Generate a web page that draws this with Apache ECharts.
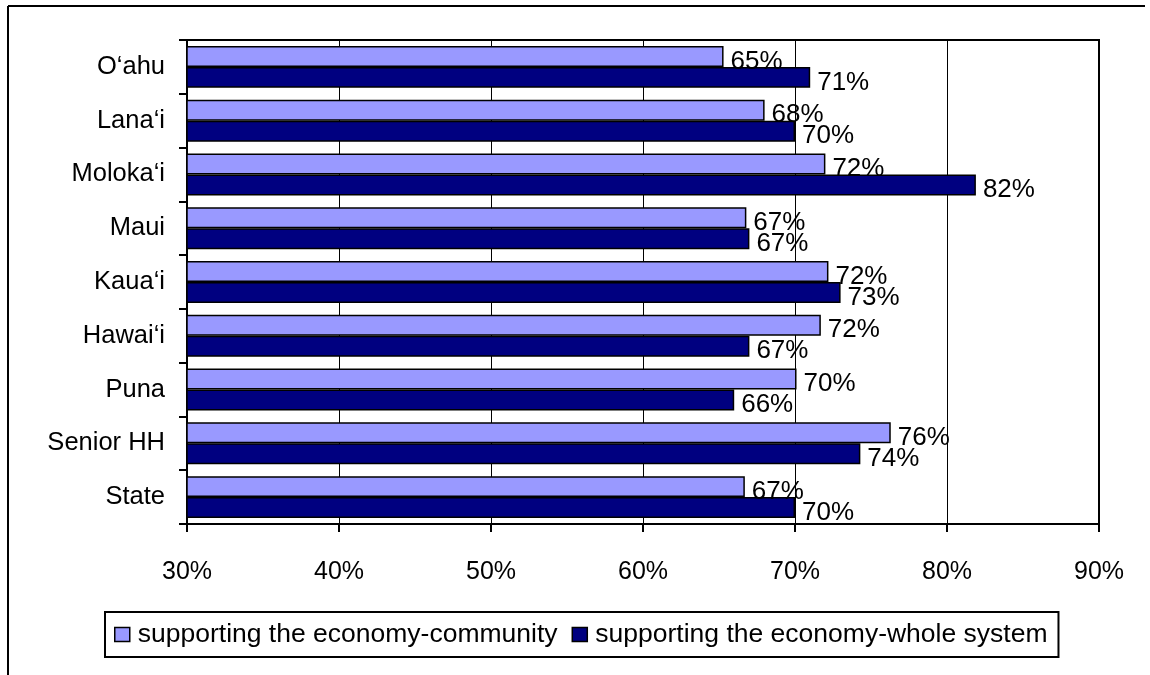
<!DOCTYPE html>
<html>
<head>
<meta charset="utf-8">
<script src="https://cdn.jsdelivr.net/npm/echarts@6/dist/echarts.min.js"></script>
<style>
  html, body { margin: 0; padding: 0; background: #fff; }
  #chart { width: 1150px; height: 675px; }
</style>
</head>
<body>
<div id="chart"></div>
<script>
var categories = ["O\u2018ahu", "Lana\u2018i", "Moloka\u2018i", "Maui", "Kaua\u2018i", "Hawai\u2018i", "Puna", "Senior HH", "State"];
var communityValues = [65.3, 68.0, 72.0, 66.8, 72.2, 71.7, 70.1, 76.3, 66.7];
var wholeSystemValues = [71.0, 70.0, 81.9, 67.0, 73.0, 67.0, 66.0, 74.3, 70.0];
var seriesNames = ["supporting the economy-community", "supporting the economy-whole system"];
var xTickMin = 30, xTickMax = 90, xTickStep = 10;

var FONT = "'Liberation Sans', Arial, sans-serif";
var chart = echarts.init(document.getElementById('chart'));

function labelCfg() {
  return {
    show: true,
    position: 'right',
    distance: 7,
    offset: [0, 5],
    color: '#000',
    fontFamily: FONT,
    fontSize: 26,
    formatter: function (p) { return Math.round(p.value) + '%'; }
  };
}

chart.setOption({
  animation: false,
  backgroundColor: '#fff',
  graphic: [
    { type: 'line', shape: { x1: 8, y1: 6, x2: 1145, y2: 6 }, style: { stroke: '#000', lineWidth: 2 } },
    { type: 'line', shape: { x1: 8, y1: 6, x2: 8, y2: 675 }, style: { stroke: '#000', lineWidth: 2 } }
  ],
  grid: {
    left: 187, right: 51, top: 40, height: 484,
    show: true, borderColor: '#000', borderWidth: 2, backgroundColor: 'transparent'
  },
  legend: {
    left: 105, top: 612,
    padding: [9, 11, 9, 9],
    borderColor: '#000', borderWidth: 2,
    itemWidth: 15, itemHeight: 14, itemGap: 14,
    icon: 'rect',
    itemStyle: { borderColor: '#000', borderWidth: 1.5 },
    textStyle: { fontFamily: FONT, fontSize: 26.5, color: '#000', padding: [0, 0, 0, 3] },
    data: seriesNames
  },
  xAxis: {
    type: 'value',
    min: xTickMin, max: xTickMax, interval: xTickStep,
    axisLine: { show: true, lineStyle: { color: '#000', width: 2 } },
    axisTick: { show: true, length: 8, lineStyle: { color: '#000', width: 2 } },
    axisLabel: { fontFamily: FONT, fontSize: 25, color: '#000', margin: 36, formatter: '{value}%' },
    splitLine: { show: true, lineStyle: { color: '#000', width: 1 } }
  },
  yAxis: {
    type: 'category',
    inverse: true,
    data: categories,
    axisLine: { show: true, lineStyle: { color: '#000', width: 2 } },
    axisTick: { show: true, length: 8, lineStyle: { color: '#000', width: 2 } },
    axisLabel: { fontFamily: FONT, fontSize: 25.5, color: '#000', margin: 22 },
    splitLine: { show: false }
  },
  series: [
    {
      name: seriesNames[0], type: 'bar', data: communityValues,
      barGap: '0%', barCategoryGap: '22%',
      itemStyle: { color: '#9999FF', borderColor: '#000', borderWidth: 1.5 },
      label: labelCfg()
    },
    {
      name: seriesNames[1], type: 'bar', data: wholeSystemValues,
      barGap: '0%', barCategoryGap: '22%',
      itemStyle: { color: '#000080', borderColor: '#000', borderWidth: 1.5 },
      label: labelCfg()
    }
  ]
});
</script>
</body>
</html>
